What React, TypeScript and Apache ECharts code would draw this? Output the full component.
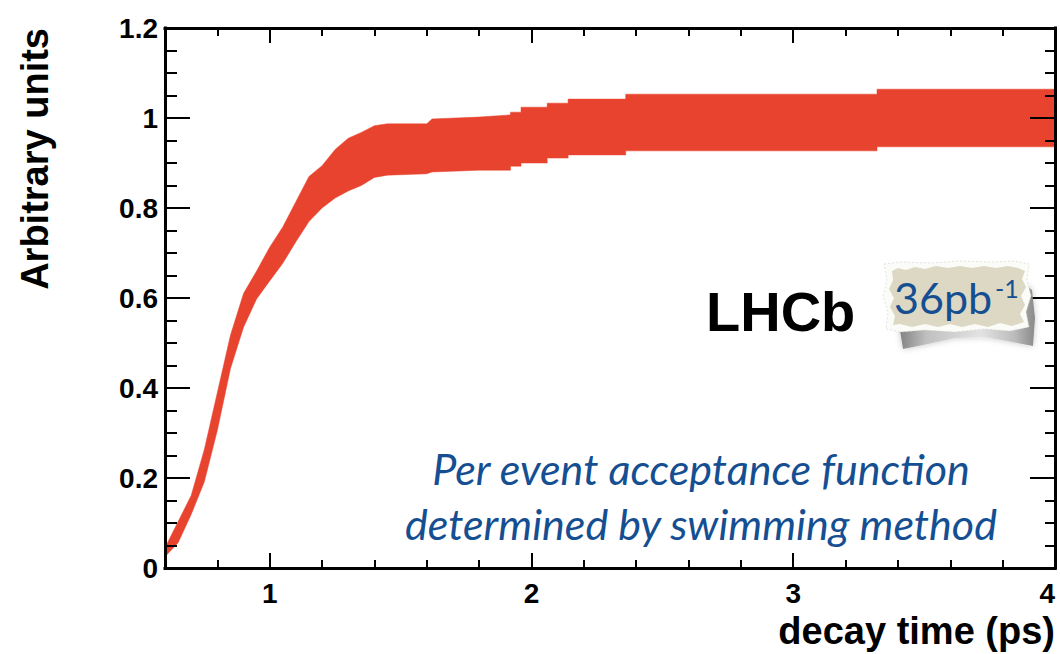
import React, { useEffect, useRef } from 'react';
import * as echarts from 'echarts';

// decay time (ps) sample points of the acceptance band (duplicates mark histogram steps)
const decayTime = [0.6, 0.65, 0.7, 0.75, 0.8, 0.85, 0.9, 0.95, 1.0, 1.05, 1.1, 1.15, 1.2, 1.25, 1.3, 1.35, 1.4, 1.45, 1.6, 1.62, 1.8, 1.92, 1.92, 1.96, 1.96, 2.06, 2.06, 2.14, 2.14, 2.36, 2.36, 3.32, 3.32, 4.0];
const upperEdge = [0.045, 0.103, 0.161, 0.263, 0.39, 0.517, 0.61, 0.66, 0.713, 0.758, 0.814, 0.87, 0.894, 0.93, 0.955, 0.968, 0.983, 0.987, 0.987, 0.998, 1.002, 1.007, 1.013, 1.013, 1.024, 1.024, 1.033, 1.033, 1.042, 1.042, 1.053, 1.053, 1.064, 1.064];
const lowerEdge = [0.025, 0.056, 0.119, 0.191, 0.306, 0.443, 0.535, 0.598, 0.638, 0.677, 0.725, 0.77, 0.8, 0.822, 0.838, 0.85, 0.868, 0.873, 0.876, 0.88, 0.884, 0.884, 0.893, 0.893, 0.9, 0.9, 0.911, 0.911, 0.918, 0.918, 0.927, 0.927, 0.936, 0.936];

const xTickValues = [1, 2, 3, 4];
const xAxisTitle = 'decay time (ps)';
const yAxisTitle = 'Arbitrary units';
const experimentLabel = 'LHCb';
const lumiLabel = '36pb';
const lumiExponent = '-1';
const noteLines = ['Per event acceptance function', 'determined by swimming method'];

const BAND = '#e8432e';
const BLUE = '#154f92';
const TICK_FONT = { fontFamily: 'Liberation Sans', fontWeight: 'bold' as const, fontSize: 28, color: '#000' };
const FRAME = { color: '#000', width: 3, cap: 'square' as const };
const TICK_LINE = { color: '#000', width: 2 };

function buildOption() {
  const bandData = decayTime.map((t, i) => [t, lowerEdge[i], upperEdge[i]]);

  const baseX = {
    type: 'value' as const,
    min: 0.6,
    max: 4,
    splitLine: { show: false },
    z: 5,
  };
  const baseY = {
    type: 'value' as const,
    min: 0,
    max: 1.2,
    interval: 0.2,
    splitLine: { show: false },
    minorSplitLine: { show: false },
    z: 5,
  };

  const renderBand = (params: any, api: any) => {
    if (params.dataIndex !== 0) return null;
    const upper = decayTime.map((t, i) => api.coord([t, upperEdge[i]]));
    const lower = decayTime.map((t, i) => api.coord([t, lowerEdge[i]])).reverse();
    return {
      type: 'polygon',
      shape: { points: upper.concat(lower) },
      style: { fill: BAND, stroke: BAND, lineWidth: 0.5 },
      clipPath: {
        type: 'rect',
        shape: {
          x: params.coordSys.x,
          y: params.coordSys.y,
          width: params.coordSys.width,
          height: params.coordSys.height,
        },
      },
    };
  };

  return {
    animation: false,
    backgroundColor: '#fff',
    grid: {
      left: 165,
      right: 5,
      top: 28,
      bottom: 86,
      containLabel: false,
      outerBoundsMode: 'none',
      show: false,
    },
    xAxis: [
      {
        ...baseX,
        position: 'bottom',
        interval: 0.2,
        axisLine: { show: true, onZero: false, lineStyle: FRAME },
        axisTick: { show: true, inside: true, length: 8, lineStyle: TICK_LINE },
        axisLabel: { show: false },
        name: xAxisTitle,
        nameLocation: 'end',
        nameGap: 0,
        nameTextStyle: {
          fontFamily: 'Liberation Sans',
          fontWeight: 'bold',
          fontSize: 38,
          color: '#000',
          align: 'right',
          verticalAlign: 'top',
          padding: [44, 0, 0, 0],
        },
      },
      {
        ...baseX,
        position: 'bottom',
        axisLine: { show: false, onZero: false },
        axisTick: { show: true, inside: true, length: 15, customValues: xTickValues, lineStyle: TICK_LINE },
        axisLabel: { show: true, customValues: xTickValues, margin: 11, alignMaxLabel: 'right', ...TICK_FONT },
      },
      {
        ...baseX,
        position: 'top',
        interval: 0.2,
        axisLine: { show: true, onZero: false, lineStyle: FRAME },
        axisTick: { show: true, inside: true, length: 8, lineStyle: TICK_LINE },
        axisLabel: { show: false },
      },
      {
        ...baseX,
        position: 'top',
        axisLine: { show: false, onZero: false },
        axisTick: { show: true, inside: true, length: 15, customValues: xTickValues, lineStyle: TICK_LINE },
        axisLabel: { show: false },
      },
    ],
    yAxis: [
      {
        ...baseY,
        position: 'left',
        axisLine: { show: true, onZero: false, lineStyle: FRAME },
        axisTick: { show: true, inside: true, length: 25, lineStyle: TICK_LINE },
        minorTick: { show: true, splitNumber: 4, length: 12, lineStyle: TICK_LINE },
        axisLabel: { show: true, margin: 7, ...TICK_FONT },
      },
      {
        ...baseY,
        position: 'right',
        axisLine: { show: true, onZero: false, lineStyle: FRAME },
        axisTick: { show: true, inside: true, length: 25, lineStyle: TICK_LINE },
        minorTick: { show: true, splitNumber: 4, length: 10, lineStyle: TICK_LINE },
        axisLabel: { show: false },
      },
    ],
    series: [
      {
        type: 'custom',
        name: 'acceptance',
        xAxisIndex: 0,
        yAxisIndex: 0,
        data: bandData,
        encode: { x: 0, y: [1, 2] },
        renderItem: renderBand,
        silent: true,
        z: 2,
      },
    ],
    graphic: [
      {
        type: 'text',
        z: 20,
        x: 35,
        y: 28,
        rotation: Math.PI / 2,
        style: {
          text: yAxisTitle,
          fontFamily: 'Liberation Sans',
          fontWeight: 'bold',
          fontSize: 38,
          fill: '#000',
          align: 'right',
          verticalAlign: 'middle',
        },
      },
      {
        type: 'text',
        z: 20,
        x: 706,
        y: 311,
        style: {
          text: experimentLabel,
          fontFamily: 'Liberation Sans',
          fontWeight: 'bold',
          fontSize: 56,
          fill: '#000',
          align: 'left',
          verticalAlign: 'middle',
        },
      },
      // paper shadow
      {
        type: 'polygon',
        z: 20,
        shape: {
          points: [
            [899, 324], [1020, 324], [1024, 284], [1032, 290], [1035, 318], [1033, 346],
            [1012, 342], [985, 337], [955, 338], [928, 344], [903, 349],
          ],
        },
        style: {
          fill: {
            type: 'linear', x: 0, y: 0, x2: 1, y2: 0,
            colorStops: [
              { offset: 0, color: '#777' },
              { offset: 0.2, color: '#bcbcbc' },
              { offset: 0.6, color: '#e2e2e2' },
              { offset: 0.85, color: '#b8b8b8' },
              { offset: 1, color: '#808080' },
            ],
          },
          opacity: 0.9,
          shadowBlur: 6,
          shadowColor: 'rgba(0,0,0,0.25)',
        },
      },
      // torn white border
      {
        type: 'polygon',
        z: 21,
        shape: {
          points: [
            [884, 264], [900, 262], [930, 263], [960, 261], [990, 262], [1015, 261], [1029, 264],
            [1027, 280], [1031, 296], [1026, 312], [1029, 327],
            [1010, 331], [985, 329], [955, 332], [925, 330], [900, 332], [886, 329],
            [888, 312], [883, 296], [887, 280],
          ],
        },
        style: { fill: '#fbfbf8', stroke: '#d9d9d9', lineWidth: 0.8, lineDash: [2, 2] },
      },
      // tan paper
      {
        type: 'polygon',
        z: 22,
        shape: {
          points: [
            [892, 271], [898, 268], [906, 270], [915, 267], [925, 269], [936, 266], [948, 268],
            [960, 266], [972, 268], [984, 266], [996, 268], [1008, 266], [1018, 268], [1025, 271],
            [1022, 279], [1026, 287], [1021, 296], [1025, 305], [1020, 314], [1024, 322],
            [1012, 326], [1000, 323], [988, 327], [975, 324], [962, 327], [950, 324],
            [938, 327], [925, 324], [912, 327], [900, 324], [893, 325],
            [895, 316], [890, 307], [894, 298], [889, 289], [893, 280],
          ],
        },
        style: { fill: '#dcd8c4' },
      },
      {
        type: 'text',
        z: 23,
        x: 894,
        y: 297,
        style: {
          text: `{a|${lumiLabel}}{b|${lumiExponent}}`,
          align: 'left',
          verticalAlign: 'middle',
          rich: {
            a: { fontFamily: 'Lato', fontSize: 43, fill: BLUE, color: BLUE, verticalAlign: 'bottom' },
            b: { fontFamily: 'Lato', fontSize: 25, fill: BLUE, color: BLUE, verticalAlign: 'top', padding: [0, 0, 0, 3] },
          },
        },
      },
      ...noteLines.map((line, i) => ({
        type: 'text',
        z: 20,
        x: 701,
        y: 468 + i * 55,
        style: {
          text: line,
          fontFamily: 'Lato',
          fontStyle: 'italic',
          fontSize: 43,
          fill: BLUE,
          align: 'center',
          verticalAlign: 'middle',
        },
      })),
    ],
  };
}

export default function App() {
  const ref = useRef<HTMLDivElement>(null);
  useEffect(() => {
    if (!ref.current) return;
    const chart = echarts.init(ref.current, null, { renderer: 'svg' });
    chart.setOption(buildOption() as any);
    return () => chart.dispose();
  }, []);
  return (
    <div
      ref={ref}
      style={{ position: 'fixed', left: 0, top: 0, width: 1060, height: 654, background: '#fff' }}
    />
  );
}
